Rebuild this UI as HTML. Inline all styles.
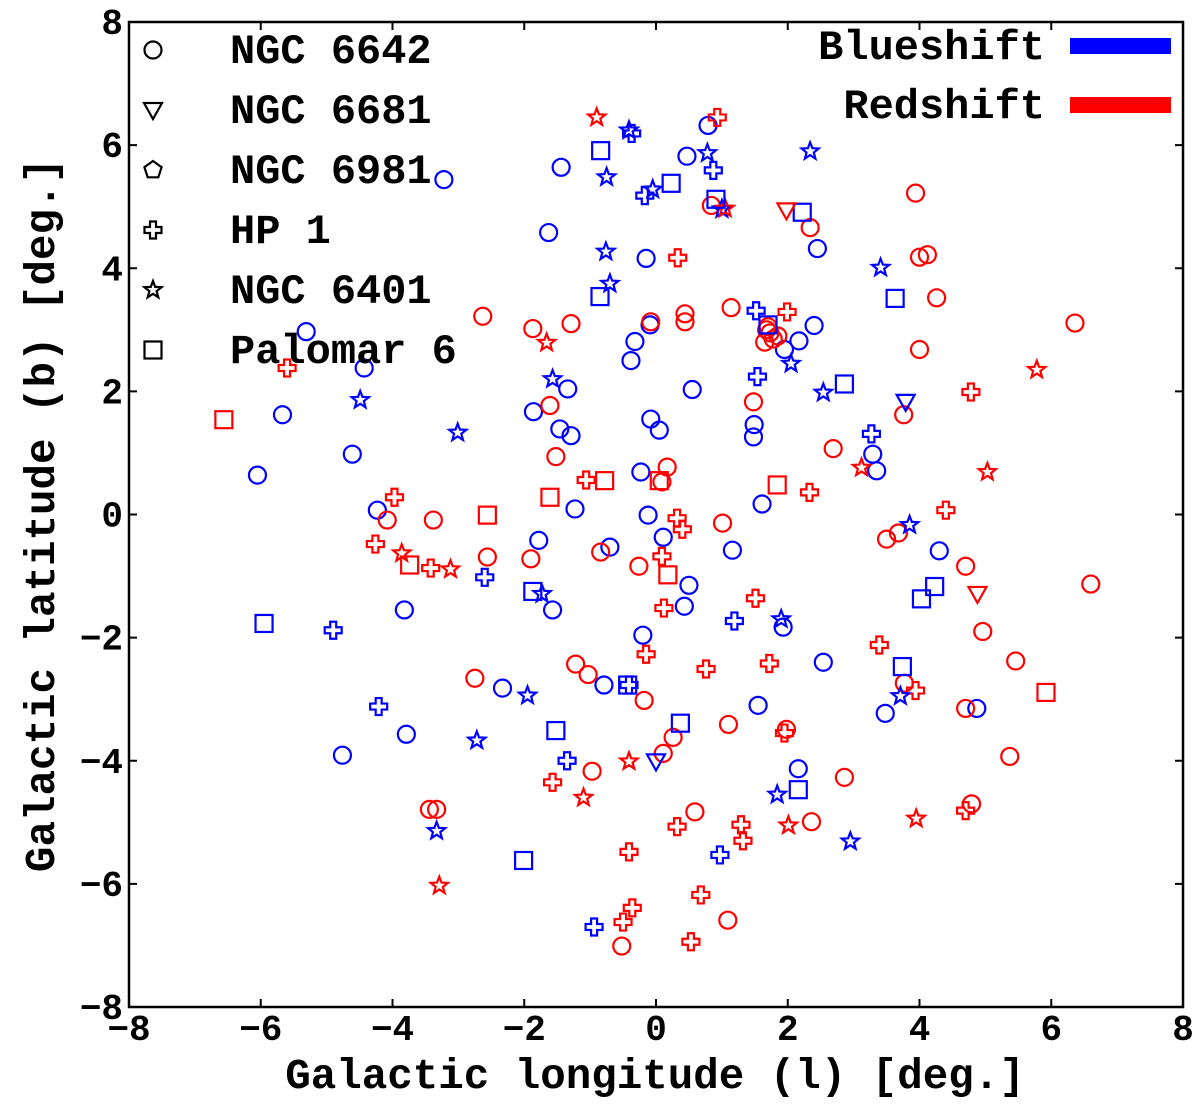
<!DOCTYPE html>
<html><head><meta charset="utf-8"><style>
html,body{margin:0;padding:0;background:#fff;}
svg{display:block;}
text{font-family:"Liberation Mono",monospace;font-weight:bold;fill:#000;}
</style></head><body>
<svg id="chart" width="1200" height="1113" viewBox="0 0 1200 1113"></svg>
<script>
const xTicks=[-8,-6,-4,-2,0,2,4,6,8];
const yTicks=[-8,-6,-4,-2,0,2,4,6,8];
const blueCircles=[[-3.22,5.44],[-1.44,5.64],[-1.63,4.58],[-5.31,2.97],[-4.43,2.38],[-5.67,1.62],[-4.61,0.98],[-6.05,0.64],[-4.23,0.07],[-3.82,-1.55],[-3.79,-3.57],[-4.76,-3.91],[-2.33,-2.82],[-1.86,1.67],[-1.46,1.39],[-1.34,2.04],[-1.29,1.28],[-1.23,0.09],[-1.78,-0.42],[-1.57,-1.55],[-0.70,-0.53],[-0.79,-2.77],[-0.20,-1.96],[-0.38,2.50],[-0.32,2.81],[-0.09,3.08],[-0.15,4.16],[0.79,6.32],[0.47,5.82],[-0.08,1.55],[0.05,1.37],[-0.23,0.69],[-0.12,-0.01],[0.11,-0.37],[0.50,-1.15],[0.43,-1.49],[0.55,2.03],[1.16,-0.58],[1.49,1.46],[1.48,1.26],[1.61,0.17],[1.55,-3.10],[1.93,-1.83],[1.95,2.68],[2.17,2.82],[2.40,3.07],[2.45,4.32],[2.54,-2.40],[2.16,-4.13],[3.29,0.98],[3.35,0.71],[3.48,-3.23],[4.30,-0.59],[4.87,-3.15]];
const redCircles=[[-2.63,3.22],[-1.87,3.02],[-1.29,3.10],[-1.61,1.77],[-1.52,0.94],[-4.08,-0.09],[-3.38,-0.09],[-2.56,-0.69],[-1.90,-0.72],[-0.84,-0.61],[-0.26,-0.84],[0.17,0.77],[0.09,0.53],[-0.08,3.13],[0.44,3.26],[0.44,3.13],[1.14,3.36],[1.01,-0.14],[1.48,1.83],[2.69,1.07],[1.68,3.0],[1.73,2.95],[1.78,2.85],[1.65,2.8],[1.85,2.9],[1.7,3.05],[0.84,5.02],[2.34,4.66],[3.94,5.22],[4.00,4.18],[4.12,4.22],[4.26,3.52],[4.00,2.68],[6.36,3.11],[3.76,1.62],[3.50,-0.40],[3.68,-0.30],[4.70,-0.84],[4.96,-1.90],[5.46,-2.38],[6.60,-1.13],[3.77,-2.74],[4.70,-3.15],[4.79,-4.70],[5.37,-3.93],[2.86,-4.27],[2.36,-4.99],[1.98,-3.49],[1.10,-3.41],[0.59,-4.83],[1.09,-6.59],[-0.52,-7.01],[0.11,-3.88],[0.26,-3.62],[-0.18,-3.02],[-1.22,-2.43],[-1.03,-2.60],[-0.97,-4.17],[-2.75,-2.66],[-3.44,-4.79],[-3.33,-4.79]];
const bluePlus=[[-0.37,6.19],[0.87,5.59],[-0.17,5.18],[1.52,3.31],[1.54,2.24],[3.27,1.31],[-2.60,-1.02],[-4.90,-1.88],[-4.21,-3.12],[-1.35,-4.00],[-0.41,-2.77],[1.19,-1.73],[0.97,-5.53],[-0.94,-6.70]];
const redPlus=[[-5.60,2.38],[-3.97,0.28],[-4.26,-0.48],[-3.42,-0.87],[-1.06,0.56],[0.32,-0.06],[0.40,-0.24],[0.09,-0.68],[0.12,-1.52],[-0.15,-2.27],[-0.41,-5.48],[-0.36,-6.39],[-0.50,-6.62],[0.53,-6.94],[0.68,-6.18],[0.32,-5.07],[0.76,-2.51],[1.72,-2.42],[1.51,-1.36],[1.29,-5.04],[1.32,-5.30],[-1.57,-4.35],[0.33,4.17],[0.93,6.45],[1.99,3.29],[2.33,0.36],[4.78,1.99],[4.40,0.07],[3.39,-2.12],[3.94,-2.86],[4.70,-4.81],[1.95,-3.55]];
const blueStars=[[-0.41,6.24],[0.78,5.87],[-0.05,5.28],[-0.75,5.48],[-0.76,4.27],[-0.70,3.75],[1.00,4.96],[2.34,5.90],[3.41,4.01],[-1.57,2.20],[-4.49,1.86],[-3.01,1.33],[2.05,2.45],[2.54,1.98],[3.85,-0.17],[-1.73,-1.29],[-1.95,-2.94],[-2.72,-3.67],[-3.33,-5.14],[1.90,-1.70],[1.84,-4.55],[2.95,-5.31],[3.71,-2.95]];
const redStars=[[-0.90,6.45],[-1.66,2.79],[-3.86,-0.63],[-3.12,-0.89],[-3.29,-6.03],[-1.10,-4.60],[-0.41,-4.01],[1.05,4.97],[3.12,0.76],[5.78,2.35],[5.03,0.69],[2.01,-5.05],[3.95,-4.94]];
const blueSquares=[[-0.84,5.91],[0.23,5.38],[0.91,5.12],[2.22,4.91],[-0.85,3.54],[1.70,3.08],[3.63,3.51],[2.86,2.12],[-1.87,-1.25],[-5.95,-1.77],[-1.52,-3.51],[-2.01,-5.62],[0.37,-3.39],[2.16,-4.47],[3.74,-2.47],[4.23,-1.17],[4.03,-1.37],[-0.43,-2.77]];
const redSquares=[[-6.56,1.54],[-2.56,-0.01],[-1.61,0.28],[-0.78,0.55],[0.05,0.55],[0.18,-0.98],[1.84,0.48],[-3.74,-0.82],[5.92,-2.89]];
const blueTriangles=[[3.79,1.83],[0.0,-4.01]];
const redTriangles=[[1.98,4.94],[4.88,-1.29]];
const legendNames=["NGC 6642","NGC 6681","NGC 6981","HP 1","NGC 6401","Palomar 6"];
const legendShapes=["circle","triangle","pentagon","plus","star","square"];

const L=129,R=1183,T=22,B=1007;
const xs=v=>L+(v+8)/16*(R-L);
const ys=v=>B-(v+8)/16*(B-T);
const NS="http://www.w3.org/2000/svg";
const svg=document.getElementById('chart');
function mk(tag,attrs,parent){const e=document.createElementNS(NS,tag);for(const k in attrs)e.setAttribute(k,attrs[k]);(parent||svg).appendChild(e);return e;}

function shape(type,cx,cy,color,parent){
  const st={fill:'none',stroke:color,'stroke-width':2.2};
  let e;
  if(type==='circle'){e=mk('circle',Object.assign({cx:cx,cy:cy,r:8.5},st),parent);}
  else if(type==='square'){e=mk('rect',Object.assign({x:cx-8.5,y:cy-8.5,width:17,height:17},st),parent);}
  else if(type==='triangle'){e=mk('polygon',Object.assign({points:`${cx-9},${cy-7} ${cx+9},${cy-7} ${cx},${cy+9}`},st),parent);}
  else if(type==='pentagon'){let p=[];for(let i=0;i<5;i++){const a=-Math.PI/2+i*2*Math.PI/5;p.push((cx+9*Math.cos(a)).toFixed(1)+','+(cy+9*Math.sin(a)).toFixed(1));}e=mk('polygon',Object.assign({points:p.join(' ')},st),parent);}
  else if(type==='star'){let p=[];for(let i=0;i<10;i++){const r=i%2?3.8:9;const a=-Math.PI/2+i*Math.PI/5;p.push((cx+r*Math.cos(a)).toFixed(1)+','+(cy+r*Math.sin(a)).toFixed(1));}e=mk('polygon',Object.assign({points:p.join(' ')},st),parent);}
  else if(type==='plus'){const a=3,b=8.5;e=mk('polygon',Object.assign({points:`${cx-a},${cy-b} ${cx+a},${cy-b} ${cx+a},${cy-a} ${cx+b},${cy-a} ${cx+b},${cy+a} ${cx+a},${cy+a} ${cx+a},${cy+b} ${cx-a},${cy+b} ${cx-a},${cy+a} ${cx-b},${cy+a} ${cx-b},${cy-a} ${cx-a},${cy-a}`},st),parent);}
  return e;
}

const frame=mk('rect',{x:L,y:T,width:R-L,height:B-T,fill:'none',stroke:'#000','stroke-width':2.5});



xTicks.forEach(v=>{
  const x=xs(v);
  const t1=mk('line',{x1:x,y1:B,x2:x,y2:B-8,stroke:'#000','stroke-width':2});
  
  
  const t2=mk('line',{x1:x,y1:T,x2:x,y2:T+8,stroke:'#000','stroke-width':2});
  
  
  const lb=mk('text',{x:x,y:B+33,'text-anchor':'middle','font-size':36});
  lb.textContent=(v<0?'\u2212':'')+Math.abs(v);
  
  
});
yTicks.forEach(v=>{
  const y=ys(v);
  const t1=mk('line',{x1:L,y1:y,x2:L+8,y2:y,stroke:'#000','stroke-width':2});
  
  
  const t2=mk('line',{x1:R,y1:y,x2:R-8,y2:y,stroke:'#000','stroke-width':2});
  
  
  const lb=mk('text',{x:L-6,y:y+12,'text-anchor':'end','font-size':36});
  lb.textContent=(v<0?'\u2212':'')+Math.abs(v);
  
  
});

const xt=mk('text',{x:655,y:1088,'text-anchor':'middle','font-size':42.5});
xt.textContent='Galactic longitude (l) [deg.]';


const yt=mk('text',{x:54,y:515,'text-anchor':'middle','font-size':42.5,transform:'rotate(-90 54 515)'});
yt.textContent='Galactic latitude (b) [deg.]';



const groups=[
 [blueCircles,'circle','#0000ff','blue-circle'],[redCircles,'circle','#ff0000','red-circle'],
 [bluePlus,'plus','#0000ff','blue-plus'],[redPlus,'plus','#ff0000','red-plus'],
 [blueStars,'star','#0000ff','blue-star'],[redStars,'star','#ff0000','red-star'],
 [blueSquares,'square','#0000ff','blue-square'],[redSquares,'square','#ff0000','red-square'],
 [blueTriangles,'triangle','#0000ff','blue-triangle'],[redTriangles,'triangle','#ff0000','red-triangle']];
groups.forEach(g=>{
  g[0].forEach(p=>{
    const e=shape(g[1],xs(p[0]),ys(p[1]),g[2]);
    
    
  });
});

legendNames.forEach((n,i)=>{
  const y=50+i*60;
  const s=shape(legendShapes[i],153,y,'#000');
  
  
  const t=mk('text',{x:230,y:y+13,'font-size':42});
  t.textContent=n;
  
  
});
[['Blueshift','#0000ff',47],['Redshift','#ff0000',106]].forEach(c=>{
  const t=mk('text',{x:1045,y:c[2]+12,'text-anchor':'end','font-size':42});
  t.textContent=c[0];
  
  
  const r=mk('rect',{x:1070,y:c[2]-9,width:101,height:16,fill:c[1]});
  
  
});
</script>
</body></html>
